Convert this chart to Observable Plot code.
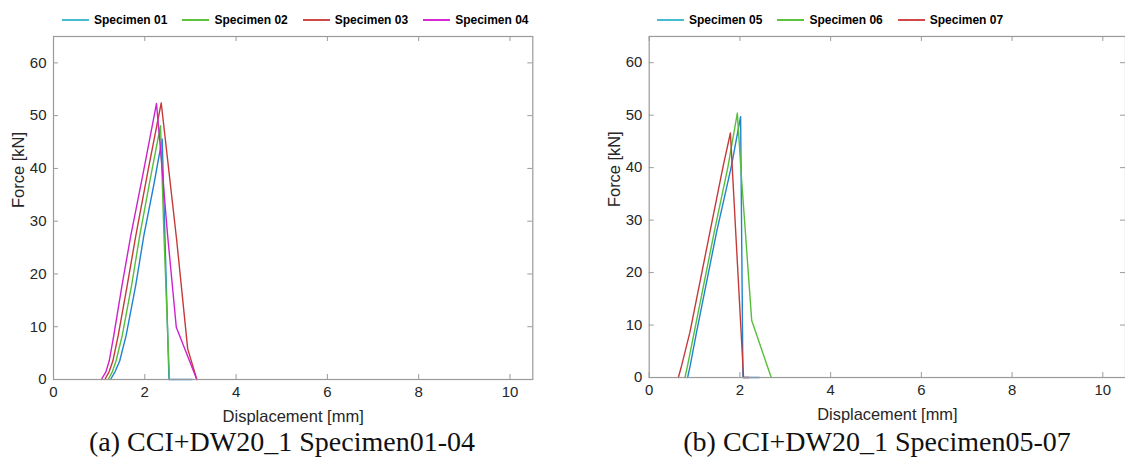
<!DOCTYPE html>
<html>
<head>
<meta charset="utf-8">
<script src="https://cdn.jsdelivr.net/npm/d3@7"></script>
<script src="https://cdn.jsdelivr.net/npm/@observablehq/plot@0.6"></script>
<style>
  html, body { margin: 0; padding: 0; background: #fff; }
  body { width: 1125px; height: 470px; overflow: hidden; position: relative; font-family: "Liberation Sans", Arial, sans-serif; }
  .panel { position: absolute; top: 30px; }
  .legend { position: absolute; top: 13px; display: flex; align-items: center; font-size: 12px; font-weight: bold; color: #000; white-space: nowrap; }
  .item { display: flex; align-items: center; margin-right: 15px; }
  .sw { width: 27px; height: 2px; margin-right: 5px; }
  .caption { position: absolute; top: 426px; font-family: "Liberation Serif", "Times New Roman", serif; font-size: 28px; color: #111; transform: translateX(-50%); white-space: nowrap; }
</style>
</head>
<body>
<div id="legA" class="legend" style="left:62px"></div>
<div id="legB" class="legend" style="left:657px"></div>
<div id="plotA" class="panel" style="left:0px"></div>
<div id="plotB" class="panel" style="left:596px"></div>
<div class="caption" style="left:282px">(a) CCI+DW20_1 Specimen01-04</div>
<div class="caption" style="left:877px">(b) CCI+DW20_1 Specimen05-07</div>
<script>
// ---- Data ----
const xTicks = [0, 2, 4, 6, 8, 10];
const yTicks = [0, 10, 20, 30, 40, 50, 60];
const xLabel = "Displacement [mm]";
const yLabel = "Force [kN]";

const namesA = ["Specimen 01", "Specimen 02", "Specimen 03", "Specimen 04"];
const namesB = ["Specimen 05", "Specimen 06", "Specimen 07"];
const lineColorsA = ["#1f82d2", "#56be38", "#c43a3a", "#cc22cc"];
const legendColorsA = ["#45bcd0", "#5cc33c", "#d14848", "#d52ad5"];
const lineColorsB = ["#1f82d2", "#56be38", "#c43a3a"];
const legendColorsB = ["#45bcd0", "#5cc33c", "#d14848"];

// Specimen 01
const disp01  = [1.25, 1.35, 1.45, 1.59, 1.80, 1.98, 2.20, 2.38, 2.53, 3.04];
const force01 = [0,    1.5,  3.5,  8.3,  17.8, 27.3, 37.0, 45.6, 0,    0];
// Specimen 02
const disp02  = [1.20, 1.29, 1.37, 1.505, 1.71, 1.89, 2.12, 2.344, 2.42, 2.54];
const force02 = [0,    1.5,  3.5,  8.3,   17.8, 27.3, 38.0, 48.1,  27.3, 0];
// Specimen 03
const disp03  = [1.125, 1.22, 1.30, 1.417, 1.614, 1.80, 2.08, 2.36, 2.70, 2.94, 3.14];
const force03 = [0,     1.5,  3.5,  8.3,   17.8,  27.1, 40.0, 52.4, 26.3, 5.8,  0];
// Specimen 04
const disp04  = [1.05, 1.15, 1.22, 1.32, 1.50, 1.69, 1.96, 2.256, 2.33, 2.50, 2.69, 3.14];
const force04 = [0,    1.5,  3.5,  8.3,  17.8, 27.1, 38.9, 52.3,  45.0, 27.3, 9.9,  0];
// Specimen 05
const disp05  = [0.847, 0.905, 1.044, 1.483, 1.81, 2.015, 2.066, 2.43];
const force05 = [0,     2.3,   8.65,  27.6,  40.2, 49.7,  0,     0];
// Specimen 06
const disp06  = [0.789, 0.847, 0.993, 1.431, 1.737, 1.943, 2.03, 2.26, 2.69];
const force06 = [0,     2.3,   8.65,  27.6,  40.2,  50.4,  38.6, 10.85, 0];
// Specimen 07
const disp07  = [0.642, 0.716, 0.898, 1.336, 1.628, 1.79, 2.08, 2.20];
const force07 = [0,     2.3,   8.65,  27.6,  40.2,  46.6, 0,    0];

const seriesA = [[disp01, force01], [disp02, force02], [disp03, force03], [disp04, force04]];
const seriesB = [[disp05, force05], [disp06, force06], [disp07, force07]];

function rowsOf(names, series, colors) {
  const rows = [];
  series.forEach(([xs, ys], i) => xs.forEach((x, j) => rows.push({s: names[i], c: colors[i], x, y: ys[j]})));
  return rows;
}

function legend(el, names, colors) {
  const root = document.getElementById(el);
  names.forEach((n, i) => {
    const it = document.createElement("div"); it.className = "item";
    const sw = document.createElement("div"); sw.className = "sw"; sw.style.background = colors[i];
    const t = document.createElement("span"); t.textContent = n;
    it.appendChild(sw); it.appendChild(t); root.appendChild(it);
  });
}

function panel(el, rows, width, marginRight) {
  const xMax = 10.5, yMax = 65;
  const tickLenY = 5 / 5.283;   // ~5px in force units
  const tickLenX = 5 / 45.65;   // ~5px in displacement units
  const axisColor = "#9a9a9a";
  const p = Plot.plot({
    width, height: 395,
    marginLeft: 53, marginRight, marginTop: 6, marginBottom: 46,
    x: {domain: [0, xMax]},
    y: {domain: [0, yMax]},
    color: {type: "identity"},
    style: {fontFamily: "'Liberation Sans', Arial, sans-serif", fontSize: "15px", color: "#262626", background: "white", overflow: "visible"},
    marks: [
      Plot.line(rows, {x: "x", y: "y", z: "s", stroke: "c", strokeWidth: 1.4}),
      Plot.ruleX(xTicks, {x: d => d, y1: 0, y2: tickLenY, stroke: axisColor}),
      Plot.ruleX(xTicks, {x: d => d, y1: yMax - tickLenY, y2: yMax, stroke: axisColor}),
      Plot.ruleY(yTicks, {y: d => d, x1: 0, x2: tickLenX, stroke: axisColor}),
      Plot.ruleY(yTicks, {y: d => d, x1: xMax - tickLenX, x2: xMax, stroke: axisColor}),
      Plot.frame({stroke: axisColor, strokeWidth: 1.2}),
      Plot.axisX({ticks: xTicks, tickSize: 0, tickPadding: 7, label: null, fill: "#262626"}),
      Plot.axisY({ticks: yTicks, tickSize: 0, tickPadding: 7, label: null, fill: "#262626"}),
      Plot.text([xLabel], {frameAnchor: "bottom", dy: 37, lineAnchor: "middle", fontSize: 16.5, fill: "#262626"}),
      Plot.text([yLabel], {frameAnchor: "left", dx: -35, rotate: -90, lineAnchor: "middle", fontSize: 16.5, fill: "#262626"})
    ]
  });
  document.getElementById(el).appendChild(p);
}

legend("legA", namesA, legendColorsA);
legend("legB", namesB, legendColorsB);
panel("plotA", rowsOf(namesA, seriesA, lineColorsA), 562, 29.7);
panel("plotB", rowsOf(namesB, seriesB, lineColorsB), 532, 0);
</script>
</body>
</html>
